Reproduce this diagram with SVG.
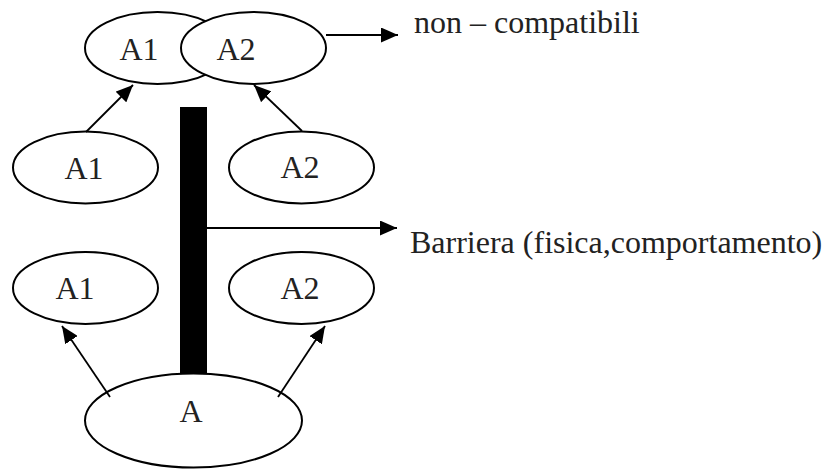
<svg xmlns="http://www.w3.org/2000/svg" width="834" height="469" viewBox="0 0 834 469">
<style>
.n{fill:#fff;stroke:#000;stroke-width:2}
.t{font-family:"Liberation Serif","Times New Roman",serif;font-size:32px;fill:#222}
.c{stroke:#000;stroke-width:1.8;fill:none;marker-end:url(#ah)}
</style>
<defs>
<marker id="ah" markerUnits="userSpaceOnUse" markerWidth="17" markerHeight="15" refX="17" refY="7.5" orient="auto">
<path d="M0,0 L17,7.5 L0,15 z" fill="#000"/>
</marker>
</defs>
<g id="barrier"><rect x="180" y="107" width="27" height="270" fill="#000"/></g>
<g id="top-a1"><ellipse class="n" cx="157.5" cy="48" rx="72.5" ry="36"/><text class="t" x="139" y="60" text-anchor="middle">A1</text></g>
<g id="top-a2"><ellipse class="n" cx="253.5" cy="48" rx="72.5" ry="36"/><text class="t" x="236" y="60" text-anchor="middle">A2</text></g>
<g id="mid-a1"><ellipse class="n" cx="85.5" cy="167.5" rx="72.5" ry="36"/><text class="t" x="84" y="179" text-anchor="middle">A1</text></g>
<g id="mid-a2"><ellipse class="n" cx="301.5" cy="167.5" rx="72.5" ry="36"/><text class="t" x="300" y="178" text-anchor="middle">A2</text></g>
<g id="bot-a1"><ellipse class="n" cx="85.5" cy="288" rx="72.5" ry="36"/><text class="t" x="75" y="299" text-anchor="middle">A1</text></g>
<g id="bot-a2"><ellipse class="n" cx="301.5" cy="288" rx="72.5" ry="36"/><text class="t" x="300" y="299" text-anchor="middle">A2</text></g>
<g id="a"><ellipse class="n" cx="193.5" cy="420.5" rx="108.5" ry="47"/><text class="t" x="191" y="422" text-anchor="middle">A</text></g>
<g id="label-non"><text class="t" x="414" y="33">non – compatibili</text></g>
<g id="label-barriera"><text class="t" x="410" y="253">Barriera (fisica,comportamento)</text></g>
<g id="connectors">
<line class="c" x1="326" y1="35" x2="398" y2="35"/>
<line class="c" x1="207" y1="228" x2="397" y2="228"/>
<line class="c" x1="86" y1="132" x2="133" y2="85"/>
<line class="c" x1="302" y1="131" x2="254" y2="85"/>
<line class="c" x1="110" y1="397" x2="62" y2="326"/>
<line class="c" x1="278" y1="397" x2="325" y2="326"/>
</g>
</svg>
